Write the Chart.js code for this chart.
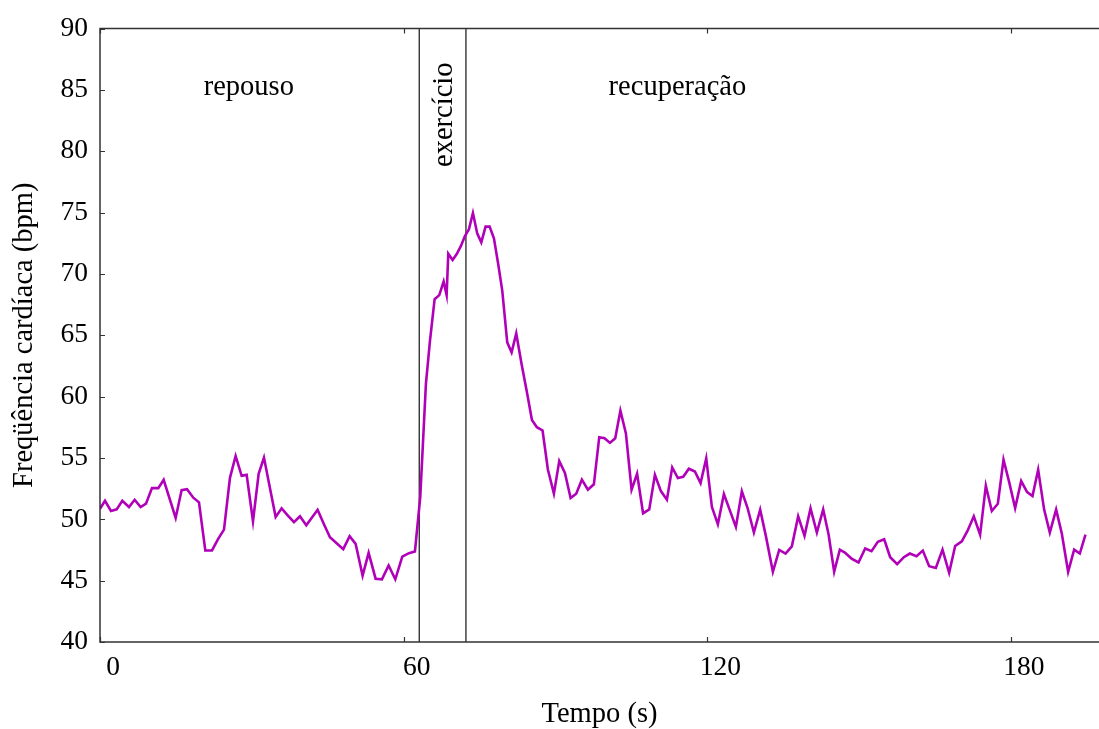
<!DOCTYPE html>
<html><head><meta charset="utf-8">
<script src="https://cdn.jsdelivr.net/npm/chart.js@4"></script>
<style>html,body{margin:0;padding:0;background:#fff;overflow:hidden}#wrap{width:1099px;height:729px;position:relative}</style>
</head><body><div id="wrap"><canvas id="c" width="1099" height="729"></canvas></div>
<script>
// time (s) of each beat
const times = [0, 0.99, 2.17, 3.29, 4.41, 5.73, 6.85, 8.03, 9.09, 10.27, 11.52, 12.58, 14.95, 16.13, 17.19, 18.44, 19.56, 20.81, 22.13, 23.38, 24.50, 25.68, 26.80, 27.99, 28.98, 30.23, 31.35, 32.40, 33.45, 34.71, 35.89, 37.08, 38.33, 39.51, 40.76, 43.00, 44.25, 45.44, 46.76, 48.07, 49.33, 50.51, 51.89, 53.08, 54.46, 55.71, 57.03, 58.35, 59.73, 61.05, 62.23,
  63.28, 64.40, 65.20, 66.12, 67.04, 67.90, 68.49, 68.82, 69.67, 70.46, 71.32, 72.11, 72.90, 73.69, 74.55, 75.34, 76.19, 76.98, 77.84, 78.69, 79.49, 80.47, 81.33, 82.25, 83.30, 84.36, 85.35, 86.33, 87.45, 88.51, 89.69, 90.75, 91.87, 92.99, 94.10, 95.22, 96.41, 97.59, 98.65, 99.70, 100.76, 101.81, 102.83, 103.92, 105.04, 106.13, 107.31, 108.53, 109.65, 110.83, 112.02, 113.07, 114.19, 115.24, 116.36, 117.55, 118.67, 119.79, 120.91, 122.09, 123.28, 124.46, 125.65, 126.83, 127.96, 129.21, 130.45, 131.57, 132.96, 134.21, 135.46, 136.71, 137.96, 139.21, 140.40, 141.65, 142.90, 143.96, 145.07, 146.19, 147.18, 148.50, 149.88, 151.20, 152.45, 153.70, 154.95, 156.14, 157.52, 158.84, 160.02, 161.34, 162.59, 163.84, 165.16, 166.48, 167.79, 168.98, 170.29, 171.41, 172.66, 173.91, 175.04, 176.22, 177.41, 178.53, 179.65, 180.83, 182.02, 183.20, 184.26, 185.38, 186.56, 187.68, 188.93, 190.05, 191.30, 192.49, 193.61, 194.73];
// heart rate (bpm)
const heartRate = [50.86, 51.51, 50.68, 50.81, 51.51, 51.0, 51.59, 51.0, 51.27, 52.54, 52.54, 53.22, 50.11, 52.38, 52.46, 51.76, 51.38, 47.46, 47.46, 48.43, 49.16, 53.38, 55.16, 53.54, 53.62, 49.84, 53.70, 55.03, 52.81, 50.19, 50.89, 50.32, 49.76, 50.24, 49.51, 50.78, 49.6, 48.54, 48.05, 47.57, 48.62, 48.0, 45.41, 47.27, 45.16, 45.11, 46.24, 45.11, 46.95, 47.24, 47.38,
  51.81, 61.03, 64.55, 67.94, 68.27, 69.38, 68.27, 71.65, 71.14, 71.60, 72.28, 73.09, 73.63, 74.96, 73.28, 72.57, 73.85, 73.85, 72.90, 70.79, 68.62, 64.42, 63.60, 65.15, 62.66, 60.35, 58.10, 57.51, 57.24, 54.04, 52.09, 54.74, 53.77, 51.73, 52.09, 53.23, 52.41, 52.85, 56.69, 56.61, 56.23, 56.61, 58.86, 57.0, 52.41, 53.71, 50.49, 50.81, 53.63, 52.30, 51.60, 54.23, 53.36, 53.46, 54.12, 53.90, 52.95, 54.96, 51.00, 49.59, 52.06, 50.73, 49.38, 52.28, 50.92, 48.92, 50.79, 48.65, 45.72, 47.51, 47.21, 47.80, 50.24, 48.65, 50.89, 48.92, 50.81, 48.78, 45.72, 47.52, 47.29, 46.80, 46.48, 47.62, 47.40, 48.16, 48.37, 46.91, 46.34, 46.91, 47.21, 46.99, 47.45, 46.18, 46.04, 47.53, 45.64, 47.83, 48.21, 49.05, 50.24, 48.75, 52.74, 50.68, 51.27, 54.85, 53.03, 50.92, 53.12, 52.22, 51.90, 54.04, 50.79, 48.92, 50.79, 48.84, 45.72, 47.53, 47.21, 48.75];
const xTickValues = [0, 60, 120, 180];
const yTickValues = [40, 45, 50, 55, 60, 65, 70, 75, 80, 85, 90];
const phaseBoundaries = [63.08, 72.31];
const phaseLabels = ['repouso', 'exercício', 'recuperação'];

const FONT = 'Liberation Serif';
const boxPlugin = {
  id: 'boxPlugin',
  afterDatasetsDraw(chart) {
    const {ctx, chartArea: a, scales: {x, y}} = chart;
    ctx.save();
    ctx.strokeStyle = '#333';
    ctx.lineWidth = 1.5;
    ctx.beginPath();
    ctx.moveTo(a.right, a.top); ctx.lineTo(a.left, a.top);
    ctx.lineTo(a.left, a.bottom); ctx.lineTo(a.right, a.bottom);
    ctx.stroke();
    ctx.lineWidth = 1.2;
    ctx.beginPath();
    x.ticks.forEach(t => {
      const px = Math.round(x.getPixelForValue(t.value)) + 0.5;
      ctx.moveTo(px, a.bottom); ctx.lineTo(px, a.bottom - 5);
      ctx.moveTo(px, a.top); ctx.lineTo(px, a.top + 5);
    });
    y.ticks.forEach(t => {
      const py = Math.round(y.getPixelForValue(t.value)) + 0.5;
      ctx.moveTo(a.left, py); ctx.lineTo(a.left + 5, py);
    });
    ctx.stroke();
    ctx.fillStyle = '#000';
    ctx.font = '28.5px "' + FONT + '"';
    ctx.textAlign = 'center';
    ctx.textBaseline = 'alphabetic';
    ctx.fillText(phaseLabels[0], x.getPixelForValue(29.4), y.getPixelForValue(84.6));
    ctx.fillText(phaseLabels[2], x.getPixelForValue(114.1), y.getPixelForValue(84.6));
    ctx.save();
    ctx.translate(x.getPixelForValue(69.6), y.getPixelForValue(82.97));
    ctx.rotate(-Math.PI / 2);
    ctx.fillText(phaseLabels[1], 0, 0);
    ctx.restore();
    ctx.restore();
  }
};

const lineData = times.map((t, i) => ({x: t, y: heartRate[i]}));
const boundarySets = phaseBoundaries.map(b => ({
  data: [{x: b, y: 40}, {x: b, y: 90}],
  borderColor: '#111', borderWidth: 1.2, pointRadius: 0, tension: 0, fill: false
}));

new Chart(document.getElementById('c'), {
  type: 'line',
  data: {
    datasets: [
      {data: lineData, borderColor: '#B000B8', borderWidth: 2.6, pointRadius: 0, tension: 0, fill: false},
      ...boundarySets
    ]
  },
  options: {
    responsive: false,
    animation: false,
    devicePixelRatio: 1,
    layout: {padding: {top: 27, right: 0, left: 0, bottom: 0}},
    plugins: {legend: {display: false}, tooltip: {enabled: false}},
    scales: {
      x: {
        type: 'linear', min: 0, max: 197.4,
        afterFit(s) { s.height = 87; },
        afterBuildTicks(s) { s.ticks = xTickValues.map(v => ({value: v})); },
        ticks: {font: {family: FONT, size: 27.5}, color: '#000', padding: 9, labelOffset: 13, maxRotation: 0, autoSkip: false},
        grid: {display: false, drawTicks: false},
        border: {display: false},
        title: {display: true, text: 'Tempo (s)', color: '#000', font: {family: FONT, size: 28.5, lineHeight: 1}, padding: {top: 0, bottom: 0}}
      },
      y: {
        type: 'linear', min: 40, max: 90,
        afterFit(s) { s.width = 100; },
        afterBuildTicks(s) { s.ticks = yTickValues.map(v => ({value: v})); },
        ticks: {font: {family: FONT, size: 27.5}, color: '#000', padding: 12, autoSkip: false},
        grid: {display: false, drawTicks: false},
        border: {display: false},
        title: {display: true, text: 'Freqüência cardíaca (bpm)', color: '#000', font: {family: FONT, size: 28.5, lineHeight: 1}, padding: {top: 10, bottom: 0}}
      }
    }
  },
  plugins: [boxPlugin]
});
</script>
</body></html>
